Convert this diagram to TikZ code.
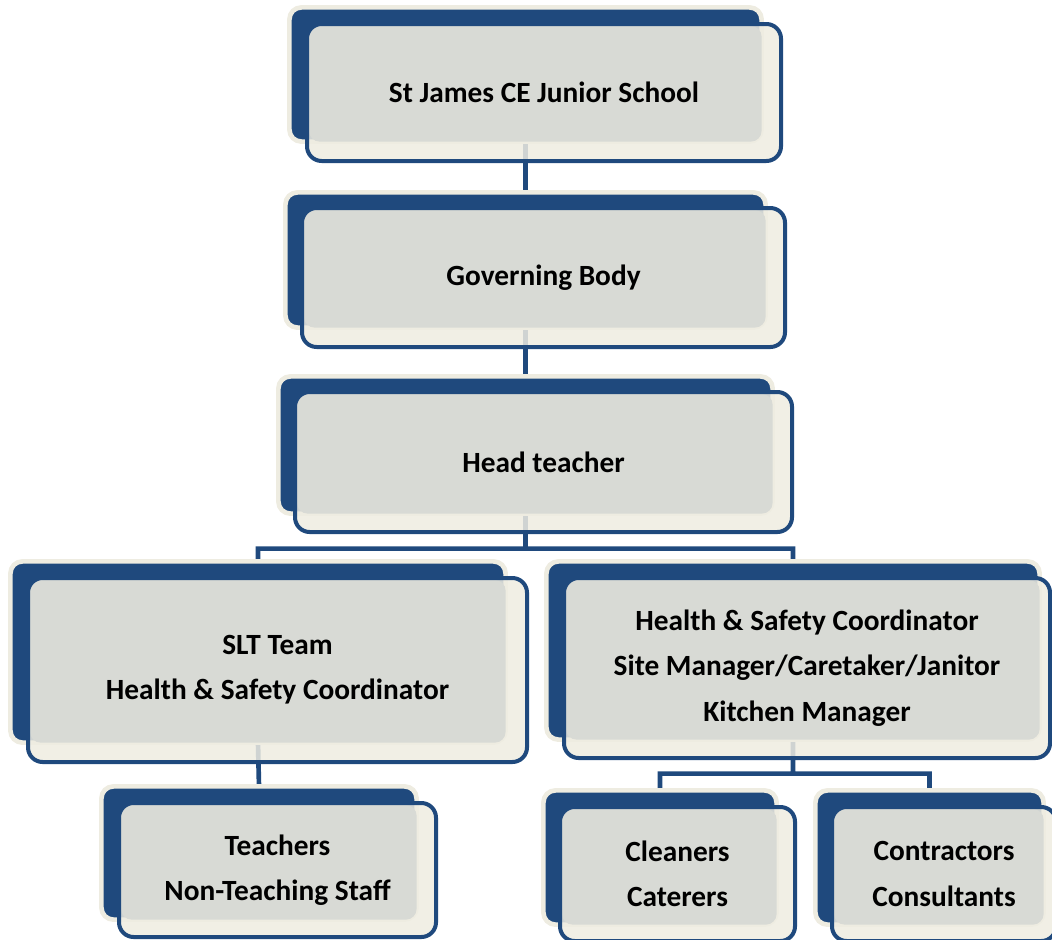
\documentclass[tikz,border=0pt]{standalone}
\usepackage{fontspec}
\setmainfont{Carlito}
\usetikzlibrary{fit,backgrounds}

\definecolor{navy}{HTML}{1F497D}
\definecolor{cream}{HTML}{EEECE1}
\definecolor{panel}{HTML}{D8DAD5}

\begin{document}
\begin{tikzpicture}[x=0.75pt,y=-0.75pt,
            back/.style={rectangle,rounded corners=9pt,fill=navy,draw=cream,line width=3.5pt,inner sep=1.2pt,outer sep=0pt},
            front/.style={rectangle,rounded corners=11pt,fill=cream,fill opacity=.85,draw=navy,line width=3pt,
              inner sep=0pt,outer sep=0pt,
              path picture={\fill[panel,fill opacity=1,rounded corners=8pt]
                ([shift={(2,2)}]path picture bounding box.north west) rectangle (#1.south east);}},
            txt/.style={align=center,inner sep=0pt,font=\fontsize{22}{34}\selectfont\bfseries},
            link/.style={draw=navy,line width=3.5pt}
          ]
          \useasboundingbox (0,0) rectangle (1052,939);

          %top of the tree
          \node[back,fit={(291,9)(760,140)}] (school-b) {};
          \node[front=school-b,fit={(307,24)(781,161)}] (school-f) {};
          \node[txt] (school) at (school-f) {St James CE Junior School};
          \node[back,fit={(287,194)(764,326)}] (gov-b) {};
          \node[front=gov-b,fit={(302,208)(785,347)}] (gov-f) {};
          \node[txt] (gov) at (gov-f) {Governing Body};
          \node[back,fit={(280,378)(771,512)}] (head-b) {};
          \node[front=head-b,fit={(295,392)(792,532)}] (head-f) {};
          \node[txt] (head) at (head-f) {Head teacher};

          %coordinators
          \node[back,fit={(12,563)(504,741)}] (slt-b) {};
          \node[front=slt-b,fit={(28,578)(527,762)}] (slt-f) {};
          \node[txt] (slt) at (slt-f) {SLT Team\\Health \& Safety Coordinator};
          \node[back,fit={(548,563)(1038,738)}] (site-b) {};
          \node[front=site-b,fit={(564,578)(1050,758)}] (site-f) {};
          \node[txt] (site) at (site-f) {Health \& Safety Coordinator\\Site Manager/Caretaker/Janitor\\Kitchen Manager};

          %staff
          \node[back,fit={(103,788)(415,918)}] (staff-b) {};
          \node[front=staff-b,fit={(119,803)(436,937)}] (staff-f) {};
          \node[txt] (staff) at (staff-f) {Teachers\\Non-Teaching Staff};
          \node[back,fit={(545,792)(775,923)}] (clean-b) {};
          \node[front=clean-b,fit={(560,807)(795,941)}] (clean-f) {};
          \node[txt] (clean) at (clean-f) {Cleaners\\Caterers};
          \node[back,fit={(817,792)(1042,923)}] (contr-b) {};
          \node[front=contr-b,fit={(832,807)(1056,941)}] (contr-f) {};
          \node[txt] (contr) at (contr-f) {Contractors\\Consultants};

          %links
          \begin{scope}[on background layer]
            \path[link]
            (school-b.south) -- (gov-b.north)
            (gov-b.south) -- (head-b.north)
            (head-b.south) -- ++(0,35) -| (slt-b.north)
            (head-b.south) ++(0,35) -| (site-b.north)
            (slt-b.south) -- (staff-b.north)
            (site-b.south) -- ++(0,34) -| (clean-b.north)
            (site-b.south) ++(0,34) -| (contr-b.north)
            ;
          \end{scope}
      \end{tikzpicture}
\end{document}
